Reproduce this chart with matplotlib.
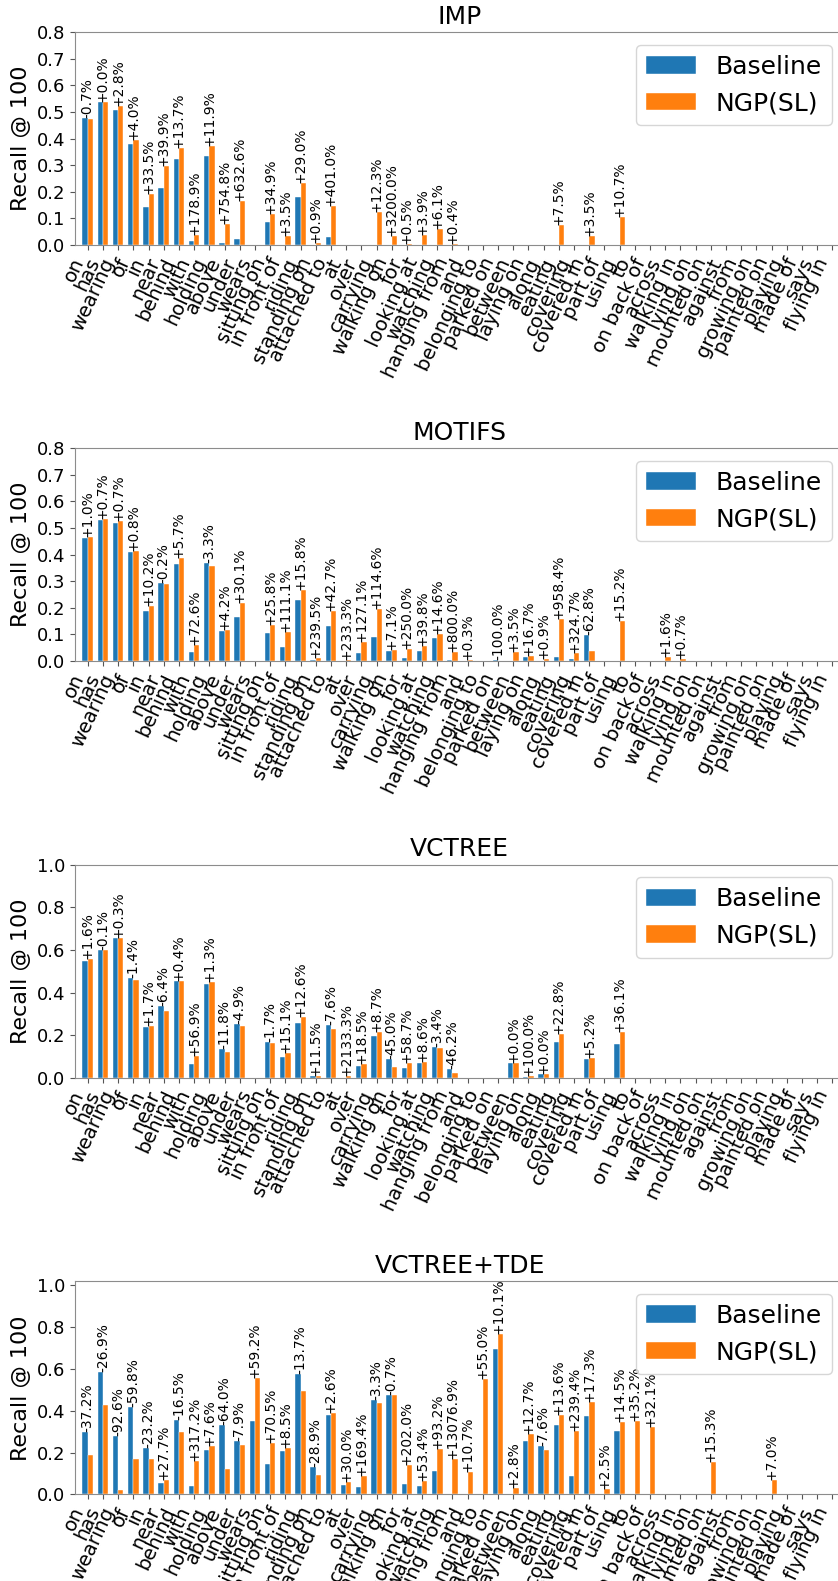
import matplotlib
matplotlib.use('Agg')
import matplotlib.pyplot as plt
import numpy as np

predicates = ['on', 'has', 'wearing', 'of', 'in', 'near', 'behind', 'with', 'holding', 'above',
              'under', 'wears', 'sitting on', 'in front of', 'riding', 'standing on', 'attached to',
              'at', 'over', 'carrying', 'walking on', 'for', 'looking at', 'watching', 'hanging from',
              'and', 'belonging to', 'parked on', 'between', 'laying on', 'along', 'eating', 'covering',
              'covered in', 'part of', 'using', 'to', 'on back of', 'across', 'walking in', 'lying on',
              'mounted on', 'against', 'from', 'growing on', 'painted on', 'playing', 'made of', 'says',
              'flying in']

titles = ['IMP', 'MOTIFS', 'VCTREE', 'VCTREE+TDE']
series_names = ['Baseline', 'NGP(SL)']

Z14 = [0.0] * 14

imp_baseline = [0.476, 0.537, 0.507, 0.381, 0.142, 0.213, 0.322, 0.0135, 0.333, 0.0093,
                0.0227, 0.0, 0.0855, 0.0, 0.179, 0.0, 0.029, 0.0, 0.0, 0.0,
                0.001, 0.0, 0.0, 0.0, 0.0, 0.0, 0.0, 0.0, 0.0, 0.0,
                0.0, 0.0, 0.0, 0.0, 0.0, 0.0] + Z14
imp_ngp = [0.473, 0.537, 0.521, 0.396, 0.190, 0.298, 0.366, 0.0377, 0.373, 0.0795,
           0.166, 0.0, 0.1153, 0.035, 0.231, 0.009, 0.1453, 0.0, 0.0, 0.123,
           0.033, 0.005, 0.039, 0.061, 0.004, 0.0, 0.0, 0.0, 0.0, 0.0,
           0.0, 0.075, 0.0, 0.035, 0.0, 0.107] + Z14
imp_labels = ['-0.7%', '+0.0%', '+2.8%', '+4.0%', '+33.5%', '+39.9%', '+13.7%', '+178.9%', '+11.9%', '+754.8%',
              '+632.6%', '', '+34.9%', '+3.5%', '+29.0%', '+0.9%', '+401.0%', '', '', '+12.3%',
              '+3200.0%', '+0.5%', '+3.9%', '+6.1%', '+0.4%', '', '', '', '', '',
              '', '+7.5%', '', '+3.5%', '', '+10.7%'] + [''] * 14

motifs_baseline = [0.461, 0.530, 0.520, 0.410, 0.186, 0.292, 0.365, 0.034, 0.369, 0.113,
                   0.167, 0.0, 0.107, 0.051, 0.229, 0.0038, 0.132, 0.0015, 0.031, 0.092,
                   0.039, 0.0125, 0.039, 0.088, 0.0039, 0.0, 0.0, 0.005, 0.0, 0.0163,
                   0.0, 0.0148, 0.0073, 0.098, 0.0, 0.0] + Z14
motifs_ngp = [0.466, 0.534, 0.524, 0.413, 0.205, 0.291, 0.386, 0.059, 0.357, 0.118,
              0.217, 0.0, 0.135, 0.108, 0.265, 0.0129, 0.188, 0.005, 0.0704, 0.197,
              0.0418, 0.0438, 0.0545, 0.1008, 0.035, 0.003, 0.0, 0.0, 0.035, 0.019,
              0.009, 0.157, 0.031, 0.0365, 0.0, 0.152, 0.0, 0.0, 0.016, 0.007] + [0.0] * 10
motifs_labels = ['+1.0%', '+0.7%', '+0.7%', '+0.8%', '+10.2%', '-0.2%', '+5.7%', '+72.6%', '-3.3%', '+4.2%',
                 '+30.1%', '', '+25.8%', '+111.1%', '+15.8%', '+239.5%', '+42.7%', '+233.3%', '+127.1%', '+114.6%',
                 '+7.1%', '+250.0%', '+39.8%', '+14.6%', '+800.0%', '+0.3%', '', '-100.0%', '+3.5%', '+16.7%',
                 '+0.9%', '+958.4%', '+324.7%', '-62.8%', '', '+15.2%', '', '', '+1.6%', '+0.7%'] + [''] * 10

vctree_baseline = [0.550, 0.600, 0.654, 0.466, 0.240, 0.337, 0.452, 0.065, 0.442, 0.137,
                   0.253, 0.0, 0.168, 0.099, 0.255, 0.0078, 0.246, 0.0003, 0.056, 0.197,
                   0.089, 0.044, 0.069, 0.144, 0.039, 0.0, 0.0, 0.0, 0.067, 0.0035,
                   0.017, 0.166, 0.0, 0.089, 0.0, 0.158] + Z14
vctree_ngp = [0.559, 0.5995, 0.656, 0.4595, 0.244, 0.315, 0.454, 0.102, 0.448, 0.121,
              0.2405, 0.0, 0.165, 0.114, 0.287, 0.0087, 0.227, 0.0067, 0.0664, 0.214,
              0.049, 0.0698, 0.075, 0.139, 0.021, 0.0, 0.0, 0.0, 0.067, 0.007,
              0.017, 0.204, 0.0, 0.0936, 0.0, 0.215] + Z14
vctree_labels = ['+1.6%', '-0.1%', '+0.3%', '-1.4%', '+1.7%', '-6.4%', '+0.4%', '+56.9%', '+1.3%', '-11.8%',
                 '-4.9%', '', '-1.7%', '+15.1%', '+12.6%', '+11.5%', '-7.6%', '+2133.3%', '+18.5%', '+8.7%',
                 '-45.0%', '+58.7%', '+8.6%', '-3.4%', '-46.2%', '', '', '', '+0.0%', '+100.0%',
                 '+0.0%', '+22.8%', '', '+5.2%', '', '+36.1%'] + [''] * 14

tde_baseline = [0.297, 0.586, 0.280, 0.420, 0.220, 0.055, 0.358, 0.038, 0.213, 0.330,
                0.254, 0.349, 0.145, 0.206, 0.575, 0.130, 0.380, 0.044, 0.033, 0.450,
                0.477, 0.047, 0.040, 0.112, 0.0013, 0.0, 0.0, 0.697, 0.0, 0.256,
                0.229, 0.334, 0.089, 0.376, 0.0, 0.303] + Z14
tde_ngp = [0.187, 0.428, 0.021, 0.169, 0.169, 0.070, 0.299, 0.158, 0.229, 0.119,
           0.234, 0.556, 0.247, 0.2235, 0.496, 0.0925, 0.390, 0.057, 0.089, 0.435,
           0.474, 0.142, 0.0614, 0.216, 0.171, 0.107, 0.550, 0.767, 0.028, 0.2885,
           0.2115, 0.379, 0.302, 0.441, 0.025, 0.347, 0.352, 0.321, 0.0, 0.0,
           0.0, 0.153, 0.0, 0.0, 0.0, 0.070, 0.0, 0.0, 0.0, 0.0]
tde_labels = ['-37.2%', '-26.9%', '-92.6%', '-59.8%', '-23.2%', '+27.7%', '-16.5%', '+317.2%', '+7.6%', '-64.0%',
              '-7.9%', '+59.2%', '+70.5%', '+8.5%', '-13.7%', '-28.9%', '+2.6%', '+30.0%', '+169.4%', '-3.3%',
              '-0.7%', '+202.0%', '+53.4%', '+93.2%', '+13076.9%', '+10.7%', '+55.0%', '+10.1%', '+2.8%', '+12.7%',
              '-7.6%', '+13.6%', '+239.4%', '+17.3%', '+2.5%', '+14.5%', '+35.2%', '+32.1%', '', '',
              '', '+15.3%', '', '', '', '+7.0%', '', '', '', '']

baselines = [imp_baseline, motifs_baseline, vctree_baseline, tde_baseline]
ngps = [imp_ngp, motifs_ngp, vctree_ngp, tde_ngp]
labels = [imp_labels, motifs_labels, vctree_labels, tde_labels]
ylims = [0.8, 0.8, 1.0, 1.02]
yticks = [np.arange(0, 0.81, 0.1), np.arange(0, 0.81, 0.1), np.arange(0, 1.01, 0.2), np.arange(0, 1.01, 0.2)]

W, H = 838, 1581
fig = plt.figure(figsize=(W / 100, H / 100), dpi=100)

left = 75 / W
width = 769.5 / W
ax_h = 213 / H
bottoms_px = [245, 661, 1077.7, 1494.3]

x = np.arange(len(predicates))
bw = 0.35
spine_col = '#8c8c8c'

for k in range(4):
    ax = fig.add_axes([left, 1 - bottoms_px[k] / H, width, ax_h])
    b = np.array(baselines[k])
    n = np.array(ngps[k])
    ax.bar(x - bw / 2, b, bw, color='#1f77b4', label=series_names[0], edgecolor='white', linewidth=0.3)
    ax.bar(x + bw / 2, n, bw, color='#ff7f0e', label=series_names[1], edgecolor='white', linewidth=0.3)
    for i, lab in enumerate(labels[k]):
        if lab:
            ax.text(x[i], max(b[i], n[i]), lab, rotation=90, ha='center', va='bottom', fontsize=10)
    ax.set_xlim(-0.836, 49.79)
    ax.set_ylim(0, ylims[k])
    ax.set_yticks(yticks[k])
    ax.set_yticklabels(['%.1f' % v for v in yticks[k]], fontsize=13)
    ax.set_xticks(x)
    ax.set_xticklabels(predicates, rotation=65, ha='right', fontsize=14)
    ax.set_ylabel('Recall @ 100', fontsize=16)
    ax.set_title(titles[k], fontsize=18)
    for s in ax.spines.values():
        s.set_color(spine_col)
    ax.tick_params(axis='both', color='#555555')
    ax.legend(loc='upper right', fontsize=18)

fig.savefig('out.png', dpi=100)
